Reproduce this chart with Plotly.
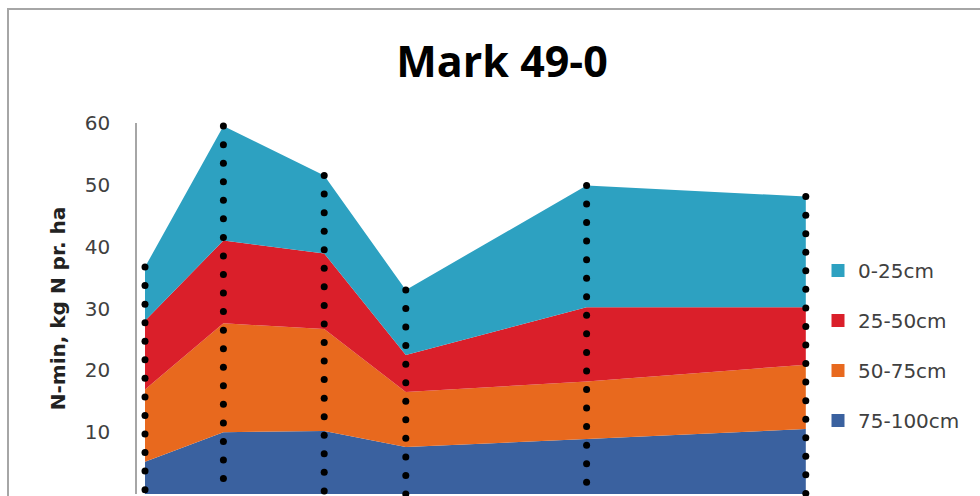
import plotly.graph_objects as go

# ---- data ----
sample_day = [0, 4.9, 11.2, 16.3, 27.6, 41.3]          # date-axis positions (days)
layers = ["75-100cm", "50-75cm", "25-50cm", "0-25cm"]    # bottom -> top
v_75_100 = [5.2, 10.0, 10.2, 7.6, 8.9, 10.5]
v_50_75 = [11.7, 17.6, 16.5, 8.9, 9.3, 10.4]
v_25_50 = [11.1, 13.4, 12.2, 6.0, 12.0, 9.3]
v_0_25 = [8.7, 18.5, 12.6, 10.5, 19.7, 17.9]
y_ticks = [0, 10, 20, 30, 40, 50, 60]

series = [v_75_100, v_50_75, v_25_50, v_0_25]
colors = ["#3A619F", "#E8691E", "#DA1F2A", "#2DA1C1"]

fig = go.Figure()

for name, vals, col in zip(layers, series, colors):
    fig.add_trace(go.Scatter(
        x=sample_day, y=vals, name=name, stackgroup="one",
        mode="lines", line=dict(width=0, color=col), fillcolor=col,
        showlegend=False, hoverinfo="skip"))

# legend entries as square markers (top layer first)
for name, col in reversed(list(zip(layers, colors))):
    fig.add_trace(go.Scatter(
        x=[None], y=[None], mode="markers", name=name, legendgroup=name,
        marker=dict(symbol="square", size=13, color=col), showlegend=True))

# drop lines (round dotted) from total to axis
totals = [a + b + c + d for a, b, c, d in zip(*series)]
step = 3.0
dx, dy = [], []
for xv, tv in zip(sample_day, totals):
    k = 0
    while tv - k * step >= -0.5:
        dx.append(xv)
        dy.append(tv - k * step)
        k += 1
fig.add_trace(go.Scatter(x=dx, y=dy, mode="markers",
                         marker=dict(size=7, color="black"),
                         showlegend=False, hoverinfo="skip", cliponaxis=False))

L, R, T, B = 137, 813, 123, 494
W, H = 980, 496
pw, ph = R - L, B - T

def px_x(p):
    return (p - L) / pw

def px_y(p):
    return (B - p) / ph

fig.add_shape(type="rect", xref="paper", yref="paper",
              x0=px_x(8), x1=px_x(1200), y0=px_y(9), y1=px_y(700),
              line=dict(color="#A6A6A6", width=2), fillcolor="rgba(0,0,0,0)", layer="below")

fig.update_layout(
    width=W, height=H,
    margin=dict(l=L, r=W - R, t=T, b=H - B, autoexpand=False),
    paper_bgcolor="white", plot_bgcolor="white",
    font=dict(family="DejaVu Sans, sans-serif", color="#404040"),
    title=dict(text="<b>Mark 49-0</b>", x=502 / W, xanchor="center",
               y=1 - 62 / H, yanchor="middle", xref="container", yref="container",
               font=dict(size=43, color="black", family="Open Sans, sans-serif")),
    xaxis=dict(range=[-0.5, 41.75], showline=False, showgrid=False,
               showticklabels=False, zeroline=False, ticks=""),
    yaxis=dict(range=[0, 60], tickvals=y_ticks, showgrid=False, zeroline=False,
               showline=True, linecolor="#A6A6A6", linewidth=1.5,
               ticks="", ticklabelstandoff=21,
               tickfont=dict(size=20, color="#404040"),
               title=dict(text="<b>N-min, kg N pr. ha</b>", standoff=14,
                          font=dict(size=20, color="#222222"))),
    showlegend=True,
    legend=dict(x=px_x(818), y=px_y(251), xanchor="left", yanchor="top",
                traceorder="grouped", tracegroupgap=21,
                font=dict(size=20, color="#404040"), itemwidth=30,
                bgcolor="rgba(0,0,0,0)"),
)

fig.write_html("out.html")
